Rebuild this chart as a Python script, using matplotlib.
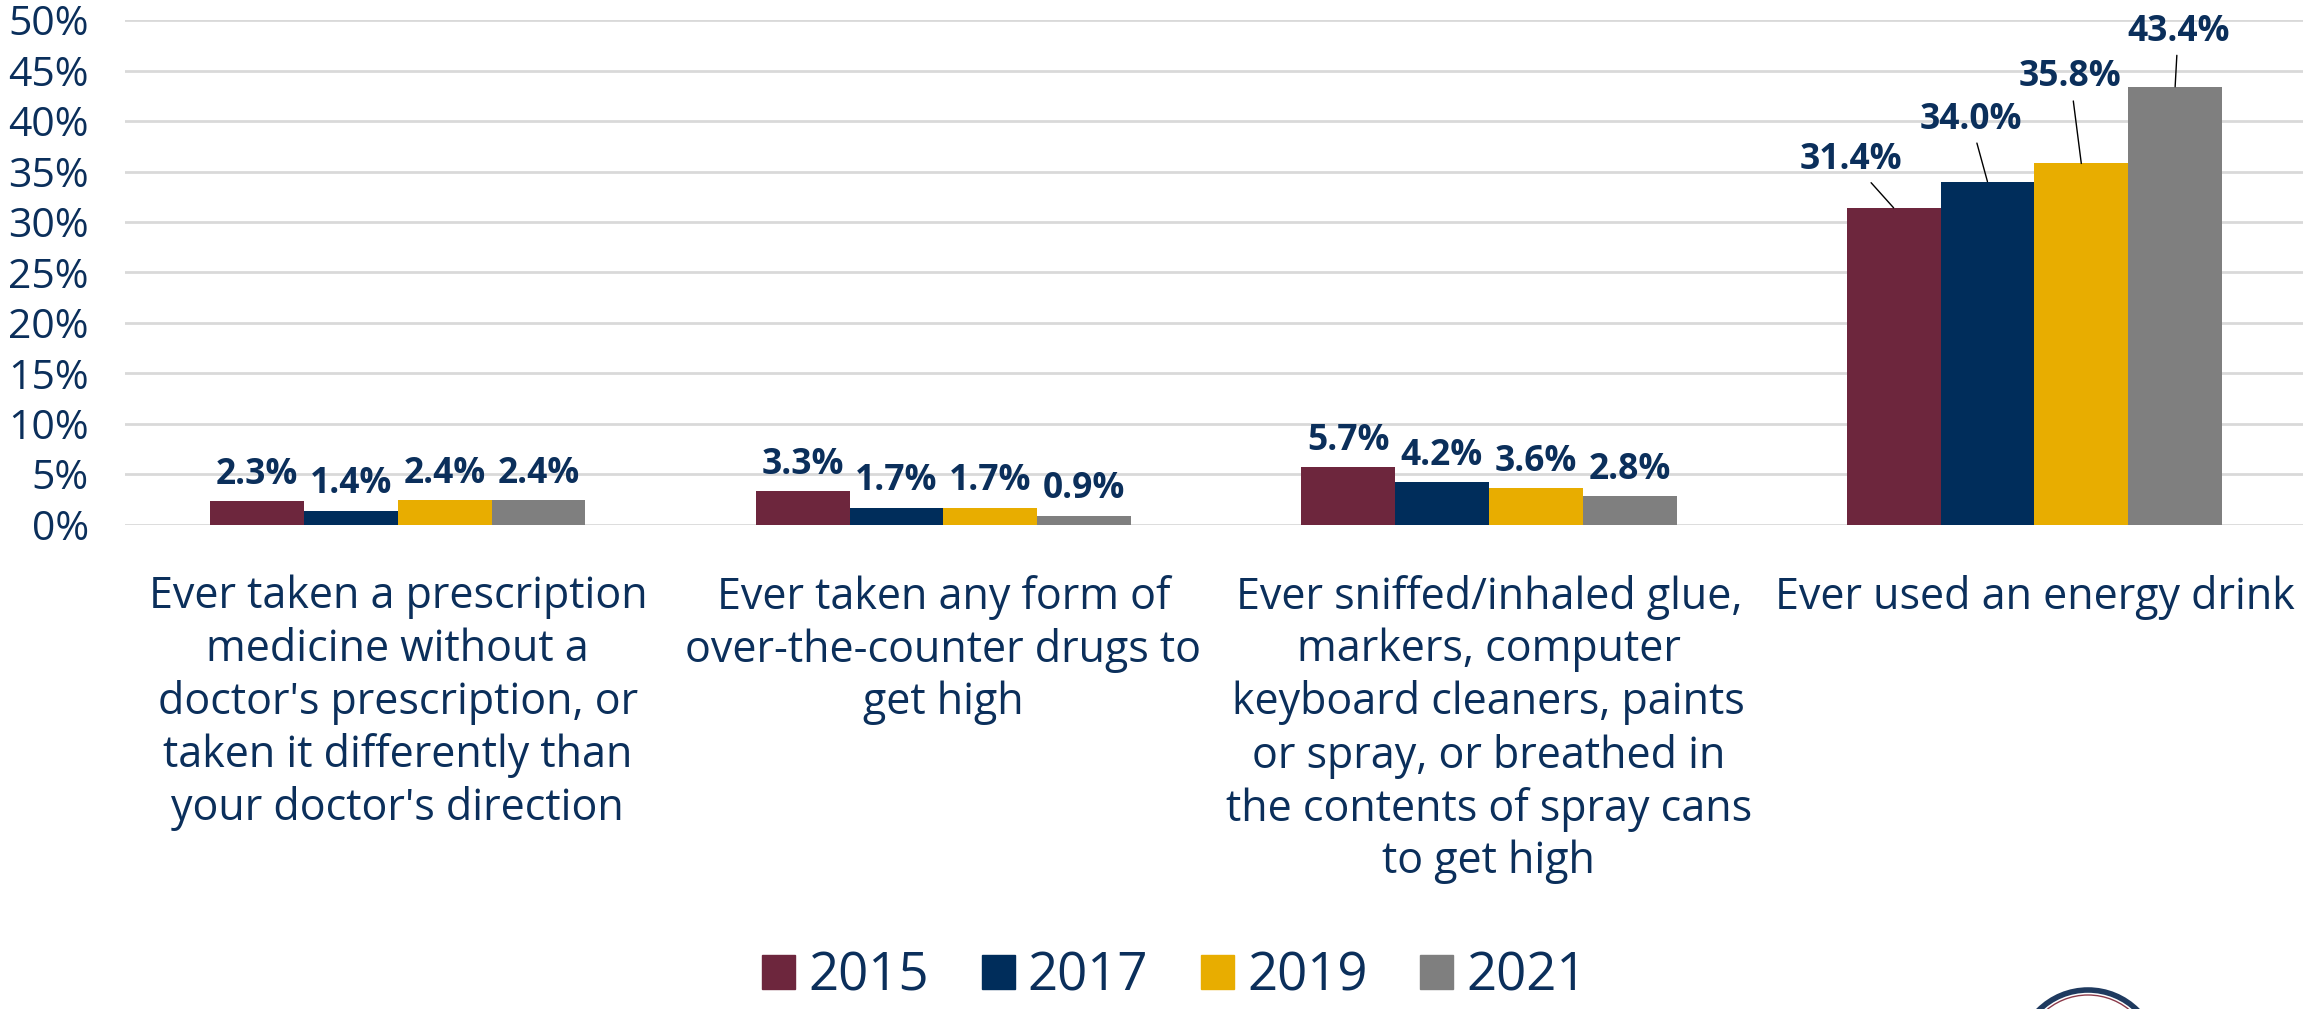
import numpy as np
import matplotlib
matplotlib.use("Agg")
import matplotlib.pyplot as plt
from matplotlib.patches import Patch, Circle

plt.rcParams['font.family'] = ['Open Sans', 'DejaVu Sans']

categories = [
    "Ever taken a prescription\nmedicine without a\ndoctor's prescription, or\ntaken it differently than\nyour doctor's direction",
    "Ever taken any form of\nover-the-counter drugs to\nget high",
    "Ever sniffed/inhaled glue,\nmarkers, computer\nkeyboard cleaners, paints\nor spray, or breathed in\nthe contents of spray cans\nto get high",
    "Ever used an energy drink",
]
years = ["2015", "2017", "2019", "2021"]
v2015 = [2.3, 3.3, 5.7, 31.4]
v2017 = [1.4, 1.7, 4.2, 34.0]
v2019 = [2.4, 1.7, 3.6, 35.8]
v2021 = [2.4, 0.9, 2.8, 43.4]
series = [v2015, v2017, v2019, v2021]

colors = ["#6D263D", "#002D5B", "#E8AD00", "#7F7F7F"]
navy = "#0B2F5B"

fig = plt.figure(figsize=(23.03, 10.09), dpi=100)
ax = fig.add_axes([0.0543, 0.48, 0.9475, 0.50])

x = np.arange(len(categories))
w = 0.172
for i, vals in enumerate(series):
    pos = x + (i - 1.5) * w
    ax.bar(pos, vals, width=w, color=colors[i], zorder=3)
    for j, v in enumerate(vals):
        if j < 3:
            ax.annotate(f"{v:.1f}%", (pos[j], v), xytext=(0, 6), textcoords="offset points",
                        ha="center", va="bottom", fontsize=25.5, fontweight="bold", color=navy)

# energy drink labels pulled out with leader lines
offs = [(-43, 48), (-17, 62), (-11, 86), (3, 55)]
for i, vals in enumerate(series):
    pos = x[3] + (i - 1.5) * w
    ax.annotate(f"{vals[3]:.1f}%", (pos, vals[3]), xytext=offs[i], textcoords="offset pixels",
                ha="center", va="center", fontsize=25.5, fontweight="bold", color=navy,
                arrowprops=dict(arrowstyle="-", color="black", lw=1, shrinkA=2, shrinkB=0))

ax.set_xlim(-0.5, 3.5)
ax.set_ylim(0, 50)
ax.set_yticks(np.arange(0, 51, 5))
ax.set_yticklabels([f"{t}%" for t in range(0, 51, 5)])
ax.yaxis.grid(True, color="#D9D9D9", lw=2)
ax.set_axisbelow(True)
for s in ax.spines.values():
    s.set_visible(False)
ax.tick_params(axis="y", length=0, pad=26, labelsize=29.5, labelcolor=navy)
ax.set_xticks(x)
ax.set_xticklabels(categories, linespacing=1.24)
ax.tick_params(axis="x", length=0, pad=36, labelsize=31, labelcolor=navy)

handles = [Patch(color=c) for c in colors]
fig.legend(handles, years, loc="center", bbox_to_anchor=(0.51, 1 - 977 / 1009), ncol=4,
           frameon=False, fontsize=38, labelcolor=navy, handlelength=0.62, handleheight=0.62,
           handletextpad=0.25, columnspacing=1.0)

# partial logo at the bottom edge
fig.add_artist(Circle((20.88, -0.51), 0.70, transform=fig.dpi_scale_trans,
                      fill=False, ec="#1F3A5F", lw=4))
fig.add_artist(Circle((20.88, -0.51), 0.65, transform=fig.dpi_scale_trans,
                      fill=False, ec="#8B3A4A", lw=1))

fig.savefig("out.png", dpi=100)
